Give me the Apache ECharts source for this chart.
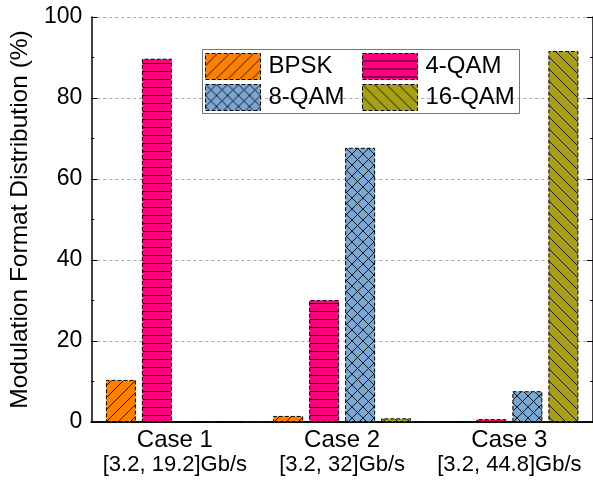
<!DOCTYPE html>
<html>
<head>
<meta charset="utf-8">
<script src="https://cdn.jsdelivr.net/npm/echarts@6/dist/echarts.min.js"></script>
<style>html,body{margin:0;padding:0;background:#fff}#c{width:593px;height:485px}</style>
</head>
<body>
<div id="c"></div>
<script>
var categories = ['Case 1', 'Case 2', 'Case 3'];
var rateLabels = ['[3.2, 19.2]Gb/s', '[3.2, 32]Gb/s', '[3.2, 44.8]Gb/s'];
var seriesNames = ['BPSK', '4-QAM', '8-QAM', '16-QAM'];
var bpsk = [10.4, 1.5, 0];
var qam4 = [89.7, 30.1, 0.7];
var qam8 = [0, 67.7, 7.6];
var qam16 = [0, 0.9, 91.6];
var yTicks = [0, 20, 40, 60, 80, 100];

function pattern(bg, kind, size) {
  var c = document.createElement('canvas');
  c.width = size; c.height = size;
  var g = c.getContext('2d');
  g.fillStyle = bg; g.fillRect(0, 0, size, size);
  g.strokeStyle = 'rgba(0,0,0,0.85)';
  g.lineWidth = 1;
  g.beginPath();
  if (kind === 'h') {
    g.moveTo(0, size - 0.5); g.lineTo(size, size - 0.5);
  }
  if (kind === 'f' || kind === 'x') {
    g.moveTo(-1, size + 1); g.lineTo(size + 1, -1);
    g.moveTo(-1, 1); g.lineTo(1, -1);
    g.moveTo(size - 1, size + 1); g.lineTo(size + 1, size - 1);
  }
  if (kind === 'b' || kind === 'x') {
    g.moveTo(-1, -1); g.lineTo(size + 1, size + 1);
    g.moveTo(size - 1, -1); g.lineTo(size + 1, 1);
    g.moveTo(-1, size - 1); g.lineTo(1, size + 1);
  }
  g.stroke();
  return { image: c, repeat: 'repeat' };
}

var fills = [
  pattern('#FF8000', 'f', 12),
  pattern('#FF0080', 'h', 8),
  pattern('#7BA7D3', 'x', 11),
  pattern('#A6A012', 'b', 12)
];
var datas = [bpsk, qam4, qam8, qam16];

var font = '"Liberation Sans", Arial, sans-serif';
var chart = echarts.init(document.getElementById('c'), null, { renderer: 'canvas' });

var series = seriesNames.map(function (n, i) {
  return {
    name: n, type: 'bar', data: datas[i],
    barWidth: 30, barGap: '20%',
    itemStyle: { color: fills[i], borderColor: '#000', borderWidth: 1, borderType: [4, 2] }
  };
});

var legText = { fontFamily: font, fontSize: 24, lineHeight: 26, color: '#000', padding: [0, 0, 0, 3] };
var legItem = { borderColor: '#000', borderWidth: 1, borderType: [4, 2] };

chart.setOption({
  animation: false,
  backgroundColor: '#fff',
  grid: { left: 89, right: 0, top: 17, bottom: 63, containLabel: false },
  legend: [
    { data: ['BPSK', '8-QAM'], orient: 'vertical', left: 205, top: 53, itemWidth: 55, itemHeight: 26, itemGap: 4, padding: 0,
      icon: 'rect', itemStyle: legItem, textStyle: legText },
    { data: ['4-QAM', '16-QAM'], orient: 'vertical', left: 362, top: 53, itemWidth: 55, itemHeight: 26, itemGap: 4, padding: 0,
      icon: 'rect', itemStyle: legItem, textStyle: legText }
  ],
  graphic: [
    { type: 'rect', z: 100, silent: true, shape: { x: 202.5, y: 49.5, width: 317, height: 64 },
      style: { fill: null, stroke: '#777', lineWidth: 1 } }
  ],
  xAxis: [
    { type: 'category', data: categories, position: 'bottom',
      axisLine: { lineStyle: { color: '#000', width: 1.5 } },
      axisTick: { inside: true, length: 6, lineStyle: { color: '#000' } },
      axisLabel: { margin: 6, interval: 0,
        formatter: function (v, idx) { return '{a|' + v + '}\n{b|' + rateLabels[idx] + '}'; },
        rich: { a: { fontFamily: font, fontSize: 24, lineHeight: 25, color: '#000' },
                b: { fontFamily: font, fontSize: 22, lineHeight: 23, color: '#000' } } } },
    { type: 'category', data: categories, position: 'top',
      axisLine: { lineStyle: { color: '#000', width: 1.5 } },
      axisTick: { inside: true, length: 6, alignWithLabel: true, lineStyle: { color: '#000' } },
      axisLabel: { show: false } }
  ],
  yAxis: [
    { type: 'value', min: yTicks[0], max: yTicks[yTicks.length - 1], interval: 20, position: 'left',
      name: 'Modulation Format Distribution (%)', nameLocation: 'middle', nameGap: 56,
      nameTextStyle: { fontFamily: font, fontSize: 24.5, color: '#000' },
      axisLine: { show: true, lineStyle: { color: '#000', width: 1.5 } },
      axisTick: { show: true, inside: true, length: 6, lineStyle: { color: '#000' } },
      minorTick: { show: true, splitNumber: 2, length: 3, lineStyle: { color: '#000' } },
      axisLabel: { margin: 9, fontFamily: font, fontSize: 23, color: '#000' },
      splitLine: { show: true, lineStyle: { color: '#aaa', type: [3, 3], width: 1 } } },
    { type: 'value', min: 0, max: 100, interval: 20, position: 'right',
      axisLine: { show: true, lineStyle: { color: '#000', width: 1.5 } },
      axisTick: { show: true, inside: true, length: 6, lineStyle: { color: '#000' } },
      minorTick: { show: true, splitNumber: 2, length: 3, lineStyle: { color: '#000' } },
      axisLabel: { show: false }, splitLine: { show: false } }
  ],
  series: series
});
</script>
</body>
</html>
